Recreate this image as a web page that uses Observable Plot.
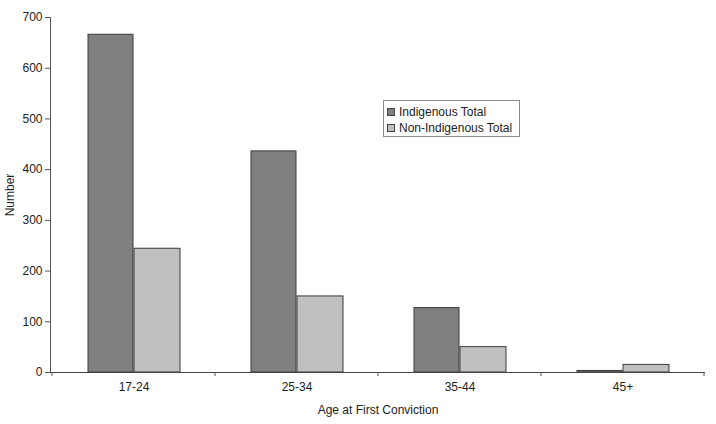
<!DOCTYPE html>
<html><head><meta charset="utf-8">
<script src="https://cdn.jsdelivr.net/npm/d3@7"></script>
<script src="https://cdn.jsdelivr.net/npm/@observablehq/plot@0.6"></script>
<style>
body{margin:0;background:#fff;}
#chart{position:relative;width:716px;height:424px;font-family:"Liberation Sans",Arial,sans-serif;}
#legend{position:absolute;left:383px;top:100px;width:137px;height:37px;border:1px solid #8a8a8a;background:#fff;font-size:12px;color:#222;box-sizing:border-box;padding:3px 0 0 3px;}
.item{display:flex;align-items:center;height:16px;line-height:16px;white-space:nowrap;}
.sw{width:6px;height:6px;border:1px solid #444;margin-right:4px;flex:none;}
</style>
</head><body>
<div id="chart"></div>
<script>
const categories = ["17-24", "25-34", "35-44", "45+"];
const seriesNames = ["Indigenous Total", "Non-Indigenous Total"];
const indigenous = [666, 436, 127, 3];
const nonIndigenous = [244, 150, 50, 15];
const yTicks = [0, 100, 200, 300, 400, 500, 600, 700];
const colors = ["#808080", "#c0c0c0"];

const indRows = categories.map((c, i) => ({age: c, value: indigenous[i]}));
const nonRows = categories.map((c, i) => ({age: c, value: nonIndigenous[i]}));

const plot = Plot.plot({
  width: 716, height: 424,
  marginLeft: 50, marginRight: 11, marginTop: 17, marginBottom: 52,
  style: {fontFamily: '"Liberation Sans", Arial, sans-serif', fontSize: "12px", color: "#222", background: "#fff"},
  x: {domain: categories, padding: 0, label: null},
  y: {domain: [0, 700], label: null},
  marks: [
    Plot.barY(indRows, {x: "age", y: "value", fill: colors[0], stroke: "#3a3a3a", strokeWidth: 1, insetLeft: 36, insetRight: 82}),
    Plot.barY(nonRows, {x: "age", y: "value", fill: colors[1], stroke: "#3a3a3a", strokeWidth: 1, insetLeft: 82, insetRight: 35}),
    Plot.ruleY([0], {stroke: "#444"}),
    Plot.axisY({ticks: yTicks, tickSize: 5, tickPadding: 3, stroke: "#555", label: "Number", labelAnchor: "center", labelArrow: false, labelOffset: 45}),
    Plot.axisX({tickSize: 0, tickPadding: 10, label: "Age at First Conviction", labelAnchor: "center", labelArrow: false, labelOffset: 41})
  ]
});
document.getElementById("chart").appendChild(plot);

// y axis line and boundary tick marks, positioned from Plot's own scales
const xs = plot.scale("x"), ys = plot.scale("y");
const y0 = ys.apply(0);
const bounds = categories.map(c => xs.apply(c)).concat([xs.apply(categories[categories.length - 1]) + xs.bandwidth]);
const g = d3.select(plot).append("g").attr("stroke", "#555");
g.selectAll("line.b").data(bounds).join("line").attr("class", "b")
  .attr("x1", d => d).attr("x2", d => d)
  .attr("y1", y0).attr("y2", y0 + 4);
g.append("line")
  .attr("x1", xs.range[0] + 0.5).attr("x2", xs.range[0] + 0.5)
  .attr("y1", ys.apply(yTicks[yTicks.length - 1])).attr("y2", y0);

const legend = document.createElement("div");
legend.id = "legend";
seriesNames.forEach((n, i) => {
  const it = document.createElement("div");
  it.className = "item";
  const sw = document.createElement("span");
  sw.className = "sw";
  sw.style.background = colors[i];
  it.appendChild(sw);
  it.appendChild(document.createTextNode(n));
  legend.appendChild(it);
});
document.getElementById("chart").appendChild(legend);
</script>
</body></html>
